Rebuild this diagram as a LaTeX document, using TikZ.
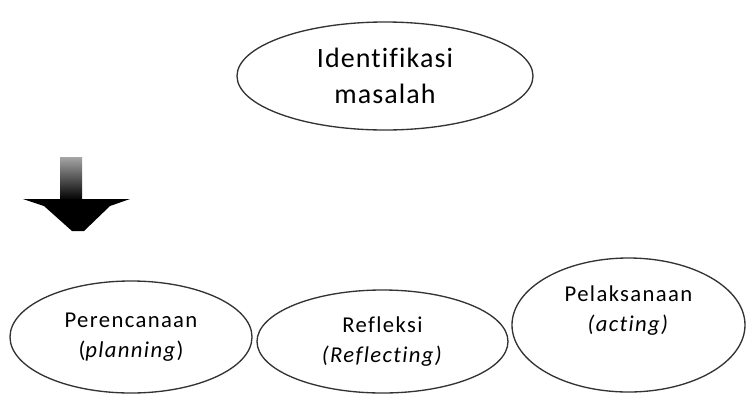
\documentclass[tikz,border=0pt]{standalone}
\usepackage{fontspec}
\setmainfont[RawFeature={-liga;-clig;-dlig}]{Carlito}
\usetikzlibrary{shapes.geometric}
\tikzset{
  oval/.style={ellipse, draw=black!80, line width=1pt, inner sep=0pt, align=center},
  bigtext/.style={font=\fontsize{21}{27}\selectfont\addfontfeatures{LetterSpace=4}},
  smalltext/.style={font=\fontsize{17}{22.5}\selectfont\addfontfeatures{LetterSpace=6}}
}
\begin{document}
\begin{tikzpicture}[x=0.75pt,y=-0.75pt]
\useasboundingbox (0,0) rectangle (747,394);
\node[oval, bigtext, minimum width=296*0.75pt, minimum height=108*0.75pt] (id) at (385,76) {Identifikasi\\masalah};
\node[oval, smalltext, minimum width=242*0.75pt, minimum height=112*0.75pt] (plan) at (131,337) {Perencanaan\\(\textit{planning})};
\node[oval, smalltext, minimum width=251*0.75pt, minimum height=103*0.75pt] (refl) at (382.5,341.5) {Refleksi\\\textit{(Reflecting)}};
\node[oval, smalltext, minimum width=233*0.75pt, minimum height=134*0.75pt] (act) at (628.5,325) {Pelaksanaan\\\textit{(acting)}\\[2pt]};
% block arrow
\shade[top color=black!35, bottom color=black] (60,157) rectangle (82,200);
\fill[black] (23,199) -- (130,199) -- (110,206) -- (84,231) -- (72,231) -- (44,206) -- cycle;
\end{tikzpicture}
\end{document}
